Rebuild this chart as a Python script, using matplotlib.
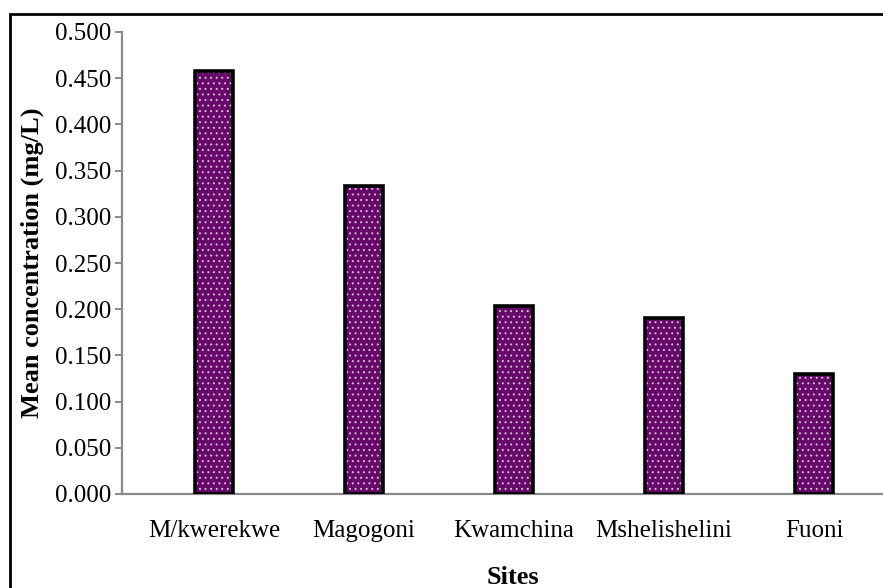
import matplotlib.pyplot as plt
from matplotlib.patches import Rectangle

sites = ["M/kwerekwe", "Magogoni", "Kwamchina", "Mshelishelini", "Fuoni"]
mean_conc = [0.458, 0.333, 0.204, 0.190, 0.130]
yticks = [0.0, 0.05, 0.10, 0.15, 0.20, 0.25, 0.30, 0.35, 0.40, 0.45, 0.50]

plt.rcParams['font.family'] = ['Liberation Serif', 'DejaVu Serif']
plt.rcParams['hatch.linewidth'] = 0.7

fig = plt.figure(figsize=(8.83, 5.88), dpi=100)
ax = fig.add_axes([122/883, 1 - 494/588, 1 - 122/883, (494 - 32)/588])

x = list(range(len(sites)))
# dotted purple fill first, then a separate black outline on top
ax.bar(x, mean_conc, width=0.255, color='#650a68', edgecolor='#e2b4e2',
       hatch='...', linewidth=0, zorder=2)
ax.bar(x, mean_conc, width=0.255, fill=False, edgecolor='black',
       linewidth=2.6, zorder=3)

ax.set_xlim(-0.613, 4.46)
ax.set_ylim(0, 0.5)
ax.set_yticks(yticks)
ax.set_yticklabels([f"{v:.3f}" for v in yticks])
ax.set_xticks(x)
ax.set_xticklabels(sites)

for side in ['top', 'right']:
    ax.spines[side].set_visible(False)
for side in ['left', 'bottom']:
    ax.spines[side].set_color('#898989')
    ax.spines[side].set_linewidth(1.6)

ax.tick_params(axis='y', length=5, width=1.4, color='#898989', pad=3,
               labelsize=18)
ax.tick_params(axis='x', length=0, pad=19, labelsize=18)

ax.set_ylabel("Mean concentration (mg/L)", fontsize=19, fontweight='bold',
              labelpad=8)
ax.set_xlabel("Sites", fontsize=19, fontweight='bold', va='center')
ax.xaxis.set_label_coords((513 - 122) / 761, -(577 - 494) / 462)

# outer chart border
fig.patches.append(Rectangle((10/883, -0.2), 1.2, 1.2 - 14/588,
                             transform=fig.transFigure, fill=False,
                             edgecolor='black', linewidth=2, clip_on=False))

fig.savefig("out.png", dpi=100)
